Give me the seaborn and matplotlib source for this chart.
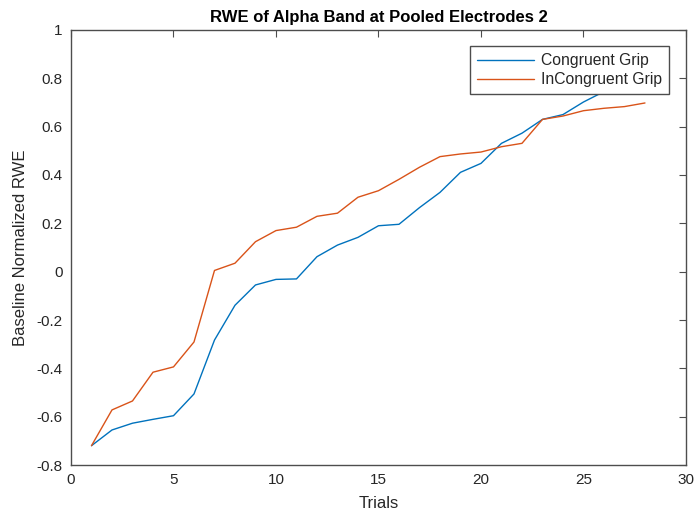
import numpy as np
import pandas as pd
import matplotlib
matplotlib.use("Agg")
import matplotlib.pyplot as plt
import seaborn as sns

trials = list(range(1, 29))
congruent = [-0.72, -0.655, -0.627, -0.611, -0.596, -0.506, -0.283, -0.139, -0.055, -0.032,
             -0.030, 0.062, 0.110, 0.142, 0.190, 0.196, 0.265, 0.328, 0.411, 0.448,
             0.531, 0.573, 0.630, 0.650, 0.702, 0.745, 0.77, 0.80]
incongruent = [-0.72, -0.572, -0.535, -0.416, -0.394, -0.291, 0.005, 0.035, 0.124, 0.170,
               0.184, 0.229, 0.242, 0.308, 0.335, 0.382, 0.432, 0.476, 0.487, 0.495,
               0.517, 0.531, 0.630, 0.644, 0.666, 0.676, 0.683, 0.698]
series_names = ["Congruent Grip", "InCongruent Grip"]

df = pd.DataFrame({
    "Trials": trials * 2,
    "RWE": congruent + incongruent,
    "Condition": [series_names[0]] * len(trials) + [series_names[1]] * len(trials),
})

sns.set_style("white")
plt.rcParams["font.family"] = ["Liberation Sans", "DejaVu Sans"]

fig = plt.figure(figsize=(6.96, 5.16), dpi=100)
ax = fig.add_axes([0.102, 0.0988, 0.8836, 0.8431])

sns.lineplot(data=df, x="Trials", y="RWE", hue="Condition",
             palette=["#0072BD", "#D95319"], linewidth=1.0, ax=ax)

ax.set_xlim(0, 30)
ax.set_ylim(-0.8, 1)
ax.set_xticks(np.arange(0, 31, 5))
ax.set_yticks(np.arange(-0.8, 1.01, 0.2))
ax.set_yticklabels(["-0.8", "-0.6", "-0.4", "-0.2", "0", "0.2", "0.4", "0.6", "0.8", "1"])

for s in ax.spines.values():
    s.set_color("#4d4d4d")
    s.set_linewidth(1.0)
    s.set_visible(True)
ax.tick_params(direction="in", length=5, width=0.8, color="#4d4d4d",
               top=True, right=True, labelsize=11, labelcolor="#262626", pad=6)

ax.set_xlabel("Trials", fontsize=12, color="#262626", labelpad=6)
ax.set_ylabel("Baseline Normalized RWE", fontsize=12, color="#262626", labelpad=6)
ax.set_title("RWE of Alpha Band at Pooled Electrodes 2", fontsize=12,
             fontweight="bold", color="black", pad=6)

leg = ax.legend(loc="upper right", bbox_to_anchor=(0.972, 0.963), borderaxespad=0,
                frameon=True, fancybox=False, fontsize=11.3, handlelength=3.6,
                handletextpad=0.45, framealpha=1, edgecolor="#4d4d4d",
                borderpad=0.45, labelspacing=0.25)
leg.get_frame().set_linewidth(1.0)
leg.set_zorder(5)

fig.savefig("out.png", dpi=100)
